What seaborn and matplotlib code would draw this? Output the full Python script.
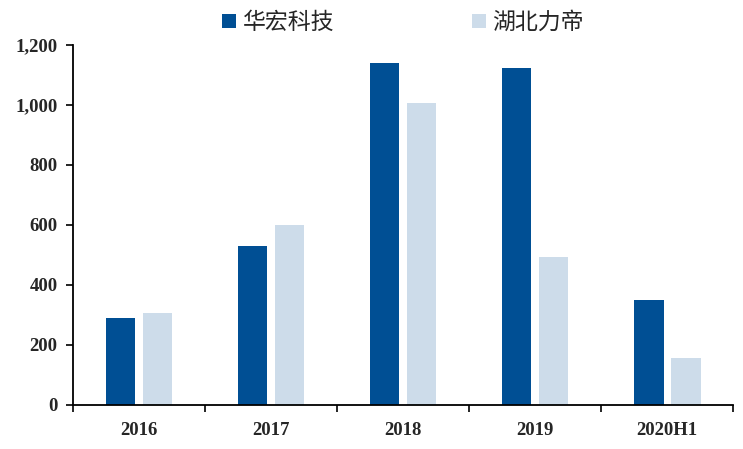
import seaborn as sns
import matplotlib.pyplot as plt
import matplotlib.ticker as mticker
import pandas as pd
import numpy as np

years = ['2016', '2017', '2018', '2019', '2020H1']
huahong = [290, 530, 1140, 1123, 350]
lidi = [307, 600, 1007, 493, 157]
series = ['华宏科技', '湖北力帝']

df = pd.DataFrame({
    'year': years * 2,
    'value': huahong + lidi,
    'company': [series[0]] * len(years) + [series[1]] * len(years),
})

sns.set_style('white')
plt.rcParams['font.family'] = ['Liberation Serif', 'Noto Sans CJK SC', 'DejaVu Sans']

fig = plt.figure(figsize=(7.43, 4.49), dpi=100)
ax = fig.add_axes([0.098, 0.098, 0.889, 0.802])
sns.barplot(data=df, x='year', y='value', hue='company', ax=ax,
            palette=['#004F94', '#CDDCEA'], width=0.56, gap=0.2,
            saturation=1, edgecolor='none')

ax.set_xlim(-0.5, 4.5)
ax.set_ylim(0, 1200)
ax.yaxis.set_major_locator(mticker.MultipleLocator(200))
ax.yaxis.set_major_formatter(mticker.StrMethodFormatter('{x:,.0f}'))
ax.set_xlabel('')
ax.set_ylabel('')
ax.set_xticks(np.arange(-0.5, 5, 1), minor=True)
ax.tick_params(bottom=True, left=True, which='both')
ax.tick_params(axis='x', which='major', length=0, pad=12)
ax.tick_params(axis='x', which='minor', length=5, width=1.2, direction='out', color='black')
ax.tick_params(axis='y', length=5, width=1.2, direction='out', color='black', pad=6)
for lab in ax.get_xticklabels() + ax.get_yticklabels():
    lab.set_fontweight('bold')
    lab.set_fontsize(13.5)
for s in ['top', 'right']:
    ax.spines[s].set_visible(False)
for s in ['left', 'bottom']:
    ax.spines[s].set_color('black')
    ax.spines[s].set_linewidth(1.3)

ax.legend(loc='lower center', bbox_to_anchor=(0.5, 1.005), ncol=2, frameon=False,
          prop={'family': ['Noto Sans CJK SC'], 'size': 16.5},
          handlelength=0.6, handleheight=0.6, handletextpad=0.3, columnspacing=6.0,
          borderaxespad=0)

fig.savefig('out.png', dpi=100)
